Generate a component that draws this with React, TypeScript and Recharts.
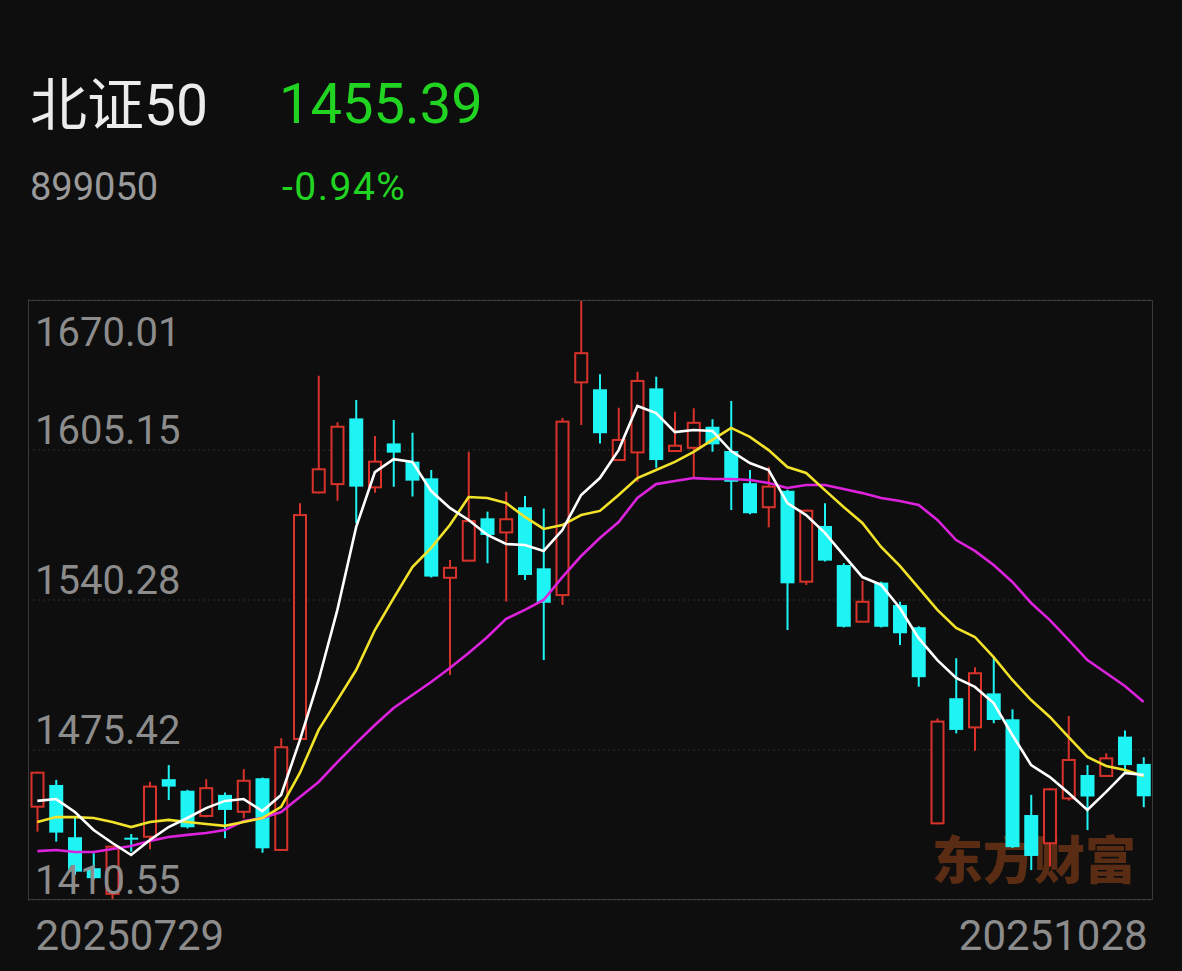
import React from 'react';
import { ComposedChart, Bar, Line, XAxis, YAxis, CartesianGrid } from 'recharts';

const dates = [
  '20250729','20250730','20250731','20250801','20250804','20250805','20250806','20250807','20250808','20250811',
  '20250812','20250813','20250814','20250815','20250818','20250819','20250820','20250821','20250822','20250825',
  '20250826','20250827','20250828','20250829','20250901','20250902','20250903','20250904','20250905','20250908',
  '20250909','20250910','20250911','20250912','20250915','20250916','20250917','20250918','20250919','20250922',
  '20250923','20250924','20250925','20250926','20250929','20250930','20251009','20251010','20251013','20251014',
  '20251015','20251016','20251017','20251020','20251021','20251022','20251023','20251024','20251027','20251028',
];

const opens = [
  1450.9,1460.3,1437.7,1424.3,1413.2,1437.5,1437.9,1462.8,1457.8,1446.9,
  1456.0,1448.7,1463.2,1432.2,1480.2,1586.8,1590.4,1618.8,1589.0,1608.0,
  1600.1,1592.9,1549.9,1557.3,1575.6,1569.5,1580.4,1554.0,1542.4,1634.4,
  1631.4,1600.8,1604.1,1631.8,1604.7,1606.1,1615.2,1604.7,1590.8,1580.4,
  1587.5,1548.2,1572.3,1555.4,1530.9,1547.8,1538.1,1528.5,1443.7,1497.8,
  1485.2,1499.9,1488.7,1447.3,1435.1,1454.5,1464.6,1464.2,1481.2,1469.4,
];
const highs = [
  1466.0,1462.5,1446.6,1430.8,1434.0,1439.1,1461.7,1468.9,1458.2,1462.8,
  1457.0,1467.1,1463.5,1480.5,1582.1,1637.2,1617.1,1626.8,1611.2,1618.1,
  1612.6,1596.5,1557.6,1604.4,1578.5,1587.1,1585.3,1579.9,1619.0,1669.6,
  1637.9,1623.4,1639.0,1636.8,1621.7,1623.2,1618.4,1626.3,1596.5,1597.9,
  1588.0,1579.3,1582.1,1556.2,1548.6,1548.2,1539.5,1528.9,1489.1,1515.1,
  1511.2,1515.8,1493.0,1456.0,1459.0,1490.1,1468.9,1474.0,1483.8,1472.3,
];
const lows = [
  1440.1,1435.8,1421.5,1419.5,1410.9,1431.4,1432.5,1453.8,1441.5,1446.3,
  1437.3,1445.9,1431.0,1431.8,1479.8,1586.3,1583.2,1573.4,1586.7,1589.3,
  1585.0,1550.0,1507.9,1557.0,1556.2,1539.6,1548.9,1514.3,1538.1,1616.0,
  1608.0,1600.5,1591.4,1597.5,1604.4,1593.2,1604.4,1579.2,1577.4,1571.7,
  1527.3,1546.8,1556.9,1528.4,1530.6,1528.4,1520.8,1502.8,1443.3,1482.6,
  1475.1,1487.0,1433.0,1423.5,1425.0,1453.5,1440.8,1463.9,1465.4,1450.7,
];
const closes = [
  1465.6,1439.7,1422.8,1420.0,1433.6,1437.2,1459.6,1459.6,1442.0,1458.9,
  1449.5,1462.1,1432.9,1476.6,1577.0,1596.8,1615.2,1589.3,1600.1,1604.0,
  1591.9,1550.4,1554.2,1574.4,1568.4,1575.2,1551.1,1539.1,1617.4,1647.0,
  1612.4,1609.5,1635.0,1600.8,1607.0,1616.9,1607.6,1591.4,1577.8,1589.3,
  1547.5,1578.9,1557.3,1528.7,1539.5,1528.7,1525.9,1506.9,1487.7,1484.1,
  1508.6,1488.4,1433.4,1429.6,1458.4,1471.1,1455.3,1471.8,1468.9,1455.39,
];

const ma5 = [
  1453.4,1454.2,1448.6,1440.8,1435.2,1430.0,1436.5,1442.1,1446.0,1450.3,
  1453.4,1454.2,1449.0,1456.0,1479.7,1505.7,1536.0,1571.8,1595.6,1601.2,
  1600.0,1587.4,1580.1,1574.9,1568.4,1564.5,1564.1,1561.5,1570.5,1585.7,
  1593.0,1605.1,1624.2,1621.1,1612.9,1613.8,1613.4,1604.7,1599.5,1596.5,
  1582.2,1577.0,1569.3,1559.7,1550.2,1546.8,1536.8,1523.8,1514.3,1506.6,
  1502.7,1495.7,1481.9,1468.9,1463.7,1456.8,1449.5,1457.3,1465.5,1464.6,
];
const ma10 = [
  1444.3,1446.4,1446.4,1446.0,1444.3,1442.1,1444.3,1445.2,1444.3,1443.4,
  1442.6,1444.3,1446.0,1450.8,1465.5,1484.1,1497.0,1510.0,1527.3,1541.1,
  1554.5,1562.8,1572.7,1584.8,1584.4,1582.2,1576.2,1571.0,1572.7,1577.0,
  1578.8,1585.7,1593.0,1596.5,1600.0,1604.3,1609.5,1614.7,1610.8,1605.1,
  1597.8,1595.2,1587.8,1580.5,1573.6,1563.2,1555.0,1545.5,1536.0,1528.2,
  1524.3,1515.6,1505.7,1497.0,1489.7,1481.0,1472.4,1468.5,1466.8,1464.2,
];
const ma20 = [
  1431.7,1432.2,1431.3,1431.3,1432.6,1433.9,1436.1,1437.8,1438.7,1439.5,
  1440.8,1444.7,1446.0,1448.6,1455.1,1461.6,1470.2,1478.4,1486.2,1493.6,
  1499.2,1504.8,1510.9,1517.4,1524.3,1532.1,1536.0,1540.3,1550.2,1559.3,
  1567.1,1574.0,1584.4,1590.4,1591.7,1593.0,1592.6,1592.6,1592.2,1590.9,
  1588.7,1590.0,1590.0,1588.3,1586.5,1584.4,1583.1,1581.4,1574.9,1566.2,
  1561.5,1555.4,1548.1,1539.0,1531.6,1523.0,1514.3,1508.7,1503.1,1496.2,
];

const yTicks = [1410.55, 1475.42, 1540.28, 1605.15, 1670.01];
const xTicks = [dates[0], dates[dates.length - 1]];

const indexName = '北证50';
const indexCode = '899050';
const lastPrice = '1455.39';
const changePct = '-0.94%';
const watermark = '东方财富';

const data = dates.map((d, i) => ({
  date: d,
  open: opens[i],
  high: highs[i],
  low: lows[i],
  close: closes[i],
  range: [lows[i], highs[i]],
  ma5: ma5[i],
  ma10: ma10[i],
  ma20: ma20[i],
}));

const RED = '#d8332b';
const CYAN = '#1ff4f4';
const BG = '#0e0e0e';
const FONT = "Roboto, 'Noto Sans CJK SC', sans-serif";

const Candle = (props: any) => {
  const { x, y, width, height, payload } = props;
  if (x == null || y == null || !payload) return null;
  const { open, close, high, low } = payload;
  const top = Math.min(y, y + height);
  const h = Math.abs(height);
  const px = (v: number) => top + ((high - v) / (high - low)) * h;
  const cx = x + width / 2;
  const bw = 14;
  const up = close >= open;
  const bTop = px(Math.max(open, close));
  let bBot = px(Math.min(open, close));
  if (bBot - bTop < 2) bBot = bTop + 2;
  const yHigh = px(high);
  const yLow = px(low);
  if (up) {
    return (
      <g>
        <line x1={cx} x2={cx} y1={yHigh} y2={bTop} stroke={RED} strokeWidth={2} />
        <line x1={cx} x2={cx} y1={bBot} y2={yLow} stroke={RED} strokeWidth={2} />
        <rect x={cx - bw / 2 + 1} y={bTop} width={bw - 2} height={Math.max(bBot - bTop, 1)} fill={BG} stroke={RED} strokeWidth={2} />
      </g>
    );
  }
  return (
    <g>
      <line x1={cx} x2={cx} y1={yHigh} y2={yLow} stroke={CYAN} strokeWidth={2} />
      <rect x={cx - bw / 2} y={bTop} width={bw} height={bBot - bTop} fill={CYAN} />
    </g>
  );
};

const PriceTick = (props: any) => {
  const { y, payload } = props;
  const v = Number(payload.value);
  const isTop = v === yTicks[yTicks.length - 1];
  return (
    <text x={35} y={isTop ? y + 46 : y - 6} fill="#8c8c8c" fontSize={40} fontFamily={FONT} textAnchor="start">
      {v.toFixed(2)}
    </text>
  );
};

const DateTick = (props: any) => {
  const { x, payload } = props;
  const first = payload.value === dates[0];
  return (
    <text x={first ? x - 2 : x + 4} y={950} fill="#8c8c8c" fontSize={42} fontFamily={FONT} textAnchor={first ? 'start' : 'end'}>
      {payload.value}
    </text>
  );
};

export default function App() {
  return (
    <div style={{ position: 'absolute', left: 0, top: 0, width: 1182, height: 971, background: BG, overflow: 'hidden' }}>
      <svg width={1182} height={280} style={{ position: 'absolute', left: 0, top: 0 }}>
        <text x={30} y={125} fill="#ececec" fontSize={57} fontFamily={FONT}>{indexName}</text>
        <text x={279} y={123} fill="#22d422" fontSize={56} fontFamily={FONT}>{lastPrice}</text>
        <text x={30} y={200} fill="#9a9a9a" fontSize={38} fontFamily={FONT}>{indexCode}</text>
        <text x={282} y={200} fill="#22d422" fontSize={39} fontFamily={FONT} letterSpacing={1.5}>{changePct}</text>
      </svg>
      <div style={{ position: 'absolute', left: 932, top: 832, fontSize: 51, fontWeight: 900, lineHeight: 1, color: '#5a2c14', fontFamily: "'Noto Sans CJK SC', sans-serif", letterSpacing: 0 }}>
        {watermark}
      </div>
      <div style={{ position: 'absolute', left: 0, top: 0 }}>
        <ComposedChart width={1182} height={971} data={data} margin={{ top: 300, right: 29, bottom: 11, left: 18 }} barCategoryGap={0}>
          <CartesianGrid vertical={false} stroke="#2e2e2e" strokeDasharray="2 3" />
          <XAxis dataKey="date" ticks={xTicks} interval={0} height={60} axisLine={false} tickLine={false} tick={<DateTick />} />
          <YAxis domain={[1410.55, 1670.01]} ticks={yTicks} interval={0} allowDataOverflow width={10} axisLine={false} tickLine={false} tick={<PriceTick />} />
          <Bar dataKey="range" shape={<Candle />} isAnimationActive={false} />
          <Line type="linear" dataKey="ma20" stroke="#dc22dc" strokeWidth={2.6} dot={false} isAnimationActive={false} />
          <Line type="linear" dataKey="ma10" stroke="#f2e22a" strokeWidth={2.6} dot={false} isAnimationActive={false} />
          <Line type="linear" dataKey="ma5" stroke="#ffffff" strokeWidth={2.6} dot={false} isAnimationActive={false} />
        </ComposedChart>
      </div>
      <div style={{ position: 'absolute', left: 28, top: 300, width: 1125, height: 600, border: '1.5px solid #3a3a3a', boxSizing: 'border-box', pointerEvents: 'none' }} />
    </div>
  );
}
